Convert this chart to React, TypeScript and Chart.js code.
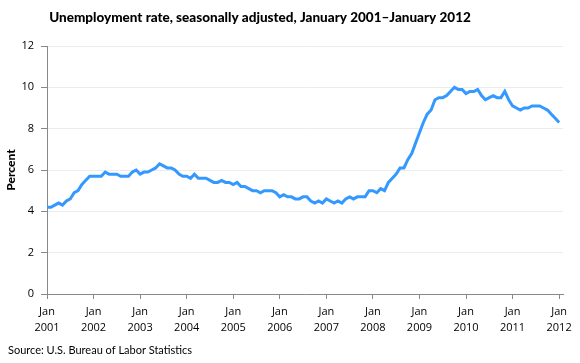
import React, { useEffect, useRef } from "react";
import { Chart, registerables } from "chart.js";

Chart.register(...registerables);

const TITLE = "Unemployment rate, seasonally adjusted, January 2001–January 2012";
const SOURCE = "Source: U.S. Bureau of Labor Statistics";
const Y_LABEL = "Percent";
const START_YEAR = 2001;
const TICK_MONTH = "Jan";

const rates2001 = [4.2, 4.2, 4.3, 4.4, 4.3, 4.5, 4.6, 4.9, 5.0, 5.3, 5.5, 5.7];
const rates2002 = [5.7, 5.7, 5.7, 5.9, 5.8, 5.8, 5.8, 5.7, 5.7, 5.7, 5.9, 6.0];
const rates2003 = [5.8, 5.9, 5.9, 6.0, 6.1, 6.3, 6.2, 6.1, 6.1, 6.0, 5.8, 5.7];
const rates2004 = [5.7, 5.6, 5.8, 5.6, 5.6, 5.6, 5.5, 5.4, 5.4, 5.5, 5.4, 5.4];
const rates2005 = [5.3, 5.4, 5.2, 5.2, 5.1, 5.0, 5.0, 4.9, 5.0, 5.0, 5.0, 4.9];
const rates2006 = [4.7, 4.8, 4.7, 4.7, 4.6, 4.6, 4.7, 4.7, 4.5, 4.4, 4.5, 4.4];
const rates2007 = [4.6, 4.5, 4.4, 4.5, 4.4, 4.6, 4.7, 4.6, 4.7, 4.7, 4.7, 5.0];
const rates2008 = [5.0, 4.9, 5.1, 5.0, 5.4, 5.6, 5.8, 6.1, 6.1, 6.5, 6.8, 7.3];
const rates2009 = [7.8, 8.3, 8.7, 8.9, 9.4, 9.5, 9.5, 9.6, 9.8, 10.0, 9.9, 9.9];
const rates2010 = [9.7, 9.8, 9.8, 9.9, 9.6, 9.4, 9.5, 9.6, 9.5, 9.5, 9.8, 9.4];
const rates2011 = [9.1, 9.0, 8.9, 9.0, 9.0, 9.1, 9.1, 9.1, 9.0, 8.9, 8.7, 8.5];
const rates2012 = [8.3];

const rates = [
  ...rates2001, ...rates2002, ...rates2003, ...rates2004, ...rates2005, ...rates2006,
  ...rates2007, ...rates2008, ...rates2009, ...rates2010, ...rates2011, ...rates2012,
];

const Y_MIN = 0;
const Y_MAX = 12;
const Y_STEP = 2;
const MONTHS_PER_YEAR = 12;

const textPlugin = {
  id: "extraTexts",
  afterDraw(chart: any) {
    const ctx = chart.ctx;
    ctx.save();
    ctx.fillStyle = "#000";
    ctx.textBaseline = "middle";
    ctx.font = "900 13.5px Lato";
    ctx.textAlign = "center";
    ctx.fillText(TITLE, 260, 18);
    ctx.font = "11px Lato";
    ctx.textAlign = "left";
    ctx.fillText(SOURCE, 8, 350);
    ctx.restore();
  },
};

export default function App() {
  const ref = useRef<HTMLCanvasElement>(null);

  useEffect(() => {
    document.body.style.margin = "0";
    const data = rates.map((v, i) => ({ x: i, y: v }));
    const chart = new Chart(ref.current!, {
      type: "line",
      data: {
        datasets: [
          {
            data,
            borderColor: "#3399FF",
            borderWidth: 3,
            pointRadius: 0,
            tension: 0,
            fill: false,
          },
        ],
      },
      options: {
        responsive: false,
        animation: false,
        layout: { padding: { top: 46, right: 17, bottom: 27, left: 0 } },
        plugins: { legend: { display: false }, tooltip: { enabled: false } },
        scales: {
          x: {
            type: "linear",
            min: 0,
            max: rates.length,
            border: { color: "#888", width: 1 },
            grid: { drawOnChartArea: false, tickLength: 5, color: "#888" },
            afterFit: (s: any) => {
              s.height = 42;
            },
            ticks: {
              stepSize: MONTHS_PER_YEAR,
              includeBounds: false,
              maxRotation: 0,
              autoSkip: false,
              padding: 5,
              color: "#000",
              font: { family: "Open Sans", size: 11, lineHeight: 1.45 },
              callback: (v: any) =>
                v % MONTHS_PER_YEAR === 0 ? [TICK_MONTH, String(START_YEAR + v / MONTHS_PER_YEAR)] : null,
            },
          },
          y: {
            min: Y_MIN,
            max: Y_MAX,
            border: { color: "#888", width: 1 },
            grid: { color: "#ececec", tickColor: "#888", tickLength: 6 },
            afterFit: (s: any) => {
              s.width = 47;
            },
            ticks: {
              stepSize: Y_STEP,
              padding: 7,
              color: "#000",
              font: { family: "Open Sans", size: 11 },
            },
            title: {
              display: true,
              text: Y_LABEL,
              color: "#000",
              font: { family: "Lato", size: 12, weight: "900" },
              padding: 4,
            },
          },
        },
      },
      plugins: [textPlugin],
    });
    return () => chart.destroy();
  }, []);

  return <canvas ref={ref} width={580} height={363} />;
}
